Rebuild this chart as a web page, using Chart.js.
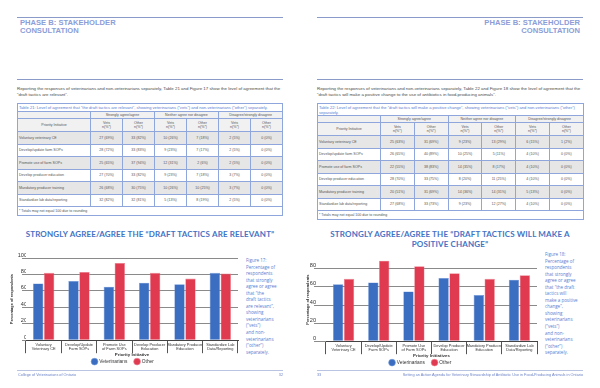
<!DOCTYPE html>
<html>
<head>
<meta charset="utf-8">
<script src="https://cdn.jsdelivr.net/npm/chart.js@4.4.1/dist/chart.umd.min.js"></script>
<style>
  html, body { margin: 0; padding: 0; background: #fff; }
  #page { position: relative; width: 600px; height: 388px; overflow: hidden; font-family: "Liberation Sans", Arial, sans-serif; }
  .rule { position: absolute; height: 0; border-top: 1px solid #8a9bc9; }
  .head { position: absolute; font-weight: bold; font-size: 7.6px; line-height: 8.4px; color: #8c9dd8; }
  .para { position: absolute; width: 268px; font-size: 4.4px; line-height: 6px; color: #4a4a4a; }
  .ctitle { position: absolute; width: 300px; font-family: Lato, "Open Sans", sans-serif; font-weight: bold; font-size: 8px; letter-spacing: 0.15px; line-height: 10px; color: #4472c4; text-align: center; }
  .side { position: absolute; width: 48px; font-family: "Open Sans", sans-serif; font-size: 4.5px; line-height: 6.55px; color: #5a7dd2; }
  .foot { position: absolute; font-size: 3.8px; color: #6f86c9; }
  table { position: absolute; border-collapse: collapse; table-layout: fixed; font-size: 3.6px; color: #555; }
  td { border: 1px solid #8ea6dc; padding: 0 1px; text-align: center; vertical-align: middle; line-height: 4.4px; overflow: hidden; white-space: nowrap; }
  td.cap { text-align: left; color: #5a7dd2; white-space: normal; font-size: 4.1px; line-height: 5px; }
  td.init { text-align: left; }
  td.note { text-align: left; }
  tr.hd td { background: #f1f1f1; }
  tr.sh td { background: #e6e6e6; }
  canvas { position: absolute; }
</style>
</head>
<body>
<div id="page">
  <!-- left page -->
  <div class="rule" style="left:17px; top:17px; width:266px;"></div>
  <div class="head" style="left:20px; top:19px;">PHASE B: STAKEHOLDER<br>CONSULTATION</div>
  <div class="rule" style="left:17px; top:79px; width:266px;"></div>
  <div class="para" style="left:17px; top:86px;">Reporting the responses of veterinarians and non-veterinarians separately, Table 21 and Figure 17 show the level of agreement that the “draft tactics are relevant”.</div>
  <table id="table21" style="left:17px; top:103px; width:266px;"></table>
  <div class="ctitle" style="left:0; top:229px;">STRONGLY AGREE/AGREE THE “DRAFT TACTICS ARE RELEVANT”</div>
  <canvas id="chart17" width="240" height="124" style="left:0; top:250px; width:240px; height:124px;"></canvas>
  <div class="side" style="left:246px; top:257px;">Figure 17:<br>Percentage of<br>respondents<br>that strongly<br>agree or agree<br>that “the<br>draft tactics<br>are relevant”,<br>showing<br>veterinarians<br>(“vets”)<br>and non-<br>veterinarians<br>(“other”)<br>separately.</div>
  <div class="rule" style="left:17px; top:370px; width:266px; border-color:#b9c4e2;"></div>
  <div class="foot" style="left:18px; top:373px;">College of Veterinarians of Ontario</div>
  <div class="foot" style="left:276px; top:373px; width:7px; text-align:right;">32</div>

  <!-- right page -->
  <div class="rule" style="left:317px; top:17px; width:266px;"></div>
  <div class="head" style="left:400px; top:19px; width:180px; text-align:right;">PHASE B: STAKEHOLDER<br>CONSULTATION</div>
  <div class="rule" style="left:317px; top:79px; width:266px;"></div>
  <div class="para" style="left:317px; top:86px;">Reporting the responses of veterinarians and non-veterinarians separately, Table 22 and Figure 18 show the level of agreement that the “draft tactics will make a positive change to the use of antibiotics in food-producing animals”.</div>
  <table id="table22" style="left:317px; top:103px; width:266px;"></table>
  <div class="ctitle" style="left:300px; top:229px;">STRONGLY AGREE/AGREE THE “DRAFT TACTICS WILL MAKE A<br>POSITIVE CHANGE”</div>
  <canvas id="chart18" width="240" height="124" style="left:300px; top:251px; width:240px; height:124px;"></canvas>
  <div class="side" style="left:545px; top:251px;">Figure 18:<br>Percentage of<br>respondents<br>that strongly<br>agree or agree<br>that “the draft<br>tactics will<br>make a positive<br>change”,<br>showing<br>veterinarians<br>(“vets”)<br>and non-<br>veterinarians<br>(“other”)<br>separately.</div>
  <div class="rule" style="left:317px; top:370px; width:266px; border-color:#b9c4e2;"></div>
  <div class="foot" style="left:317px; top:373px;">33</div>
  <div class="foot" style="left:380px; top:373px; width:203px; text-align:right;">Setting an Action Agenda for Veterinary Stewardship of Antibiotic Use in Food-Producing Animals in Ontario</div>
</div>

<script>
  // chart categories (two-line labels)
  var initiatives = [
    ['Voluntary', 'Veterinary CE'],
    ['Develop/Update', 'Farm SOPs'],
    ['Promote Use', 'of Farm SOPs'],
    ['Develop Producer', 'Education'],
    ['Mandatory Producer', 'Education'],
    ['Standardize Lab', 'Data/Reporting']
  ];

  // figure 17: % strongly agree/agree "draft tactics are relevant"
  var relevantVets = [69, 72, 65, 70, 68, 82];
  var relevantOther = [82, 83, 94, 82, 75, 81];

  // figure 18: % strongly agree/agree "draft tactics will make a positive change"
  var changeVets = [63, 65, 55, 70, 51, 68];
  var changeOther = [69, 89, 83, 75, 69, 73];

  var yTicks17 = [0, 20, 40, 60, 80, 100];
  var yTicks18 = [0, 20, 40, 60, 80];

  // table rows
  var tableInitiatives = [
    'Voluntary veterinary CE',
    'Develop/update farm SOPs',
    'Promote use of farm SOPs',
    'Develop producer education',
    'Mandatory producer training',
    'Standardize lab data/reporting'
  ];
  var table21Rows = [
    ['27 (69%)', '33 (82%)', '10 (26%)', '7 (18%)', '2 (5%)', '0 (0%)'],
    ['28 (72%)', '33 (83%)', '9 (23%)', '7 (17%)', '2 (5%)', '0 (0%)'],
    ['25 (65%)', '37 (94%)', '12 (31%)', '2 (6%)', '2 (5%)', '0 (0%)'],
    ['27 (70%)', '33 (82%)', '9 (23%)', '7 (18%)', '3 (7%)', '0 (0%)'],
    ['26 (68%)', '30 (75%)', '10 (26%)', '10 (25%)', '3 (7%)', '0 (0%)'],
    ['32 (82%)', '32 (81%)', '5 (13%)', '8 (19%)', '2 (5%)', '0 (0%)']
  ];
  var table22Rows = [
    ['25 (63%)', '31 (69%)', '9 (23%)', '13 (29%)', '6 (15%)', '1 (2%)'],
    ['26 (65%)', '40 (89%)', '10 (25%)', '5 (11%)', '4 (10%)', '0 (0%)'],
    ['22 (55%)', '38 (83%)', '14 (35%)', '8 (17%)', '4 (10%)', '0 (0%)'],
    ['28 (70%)', '33 (75%)', '8 (20%)', '11 (25%)', '4 (10%)', '0 (0%)'],
    ['20 (51%)', '31 (69%)', '14 (36%)', '14 (31%)', '5 (13%)', '0 (0%)'],
    ['27 (68%)', '33 (73%)', '9 (23%)', '12 (27%)', '4 (10%)', '0 (0%)']
  ];
  var groupHeaders = ['Strongly agree/agree', 'Neither agree nor disagree', 'Disagree/strongly disagree'];

  function buildTable(el, caption, rows, firstCol, sub, capH, rowH) {
    var html = '<colgroup><col style="width:' + firstCol + 'px">';
    for (var c = 0; c < 6; c++) html += '<col style="width:' + sub + 'px">';
    html += '</colgroup>';
    html += '<tr style="height:' + capH + 'px"><td class="cap" colspan="7">' + caption + '</td></tr>';
    html += '<tr class="hd" style="height:7px"><td></td>';
    groupHeaders.forEach(function (g) { html += '<td colspan="2">' + g + '</td>'; });
    html += '</tr><tr class="hd" style="height:13px"><td>Priority Initiative</td>';
    for (var k = 0; k < 3; k++) html += '<td>Vets<br>n(%*)</td><td>Other<br>n(%*)</td>';
    html += '</tr>';
    rows.forEach(function (r, i) {
      html += '<tr class="' + (i % 2 === 0 ? 'sh' : '') + '" style="height:' + rowH + 'px"><td class="init">' + tableInitiatives[i] + '</td>';
      r.forEach(function (v) { html += '<td>' + v + '</td>'; });
      html += '</tr>';
    });
    html += '<tr style="height:9px"><td class="note" colspan="7">* Totals may not equal 100 due to rounding</td></tr>';
    el.innerHTML = html;
  }

  buildTable(document.getElementById('table21'),
    'Table 21: Level of agreement that “the draft tactics are relevant”, showing veterinarians (“vets”) and non-veterinarians (“other”) separately.',
    table21Rows, 73, 32, 8, 12.5);
  buildTable(document.getElementById('table22'),
    'Table 22: Level of agreement that the “draft tactics will make a positive change”, showing veterinarians (“vets”) and non-veterinarians (“other”) separately.',
    table22Rows, 63, 33.8, 12, 12.5);

  Chart.defaults.font.family = '"Liberation Sans", Arial, sans-serif';
  Chart.defaults.color = '#333';

  // default legend items, with a little extra room after the first entry
  function legendItems(chart) {
    var items = Chart.defaults.plugins.legend.labels.generateLabels(chart);
    items[0].text += '    ';
    return items;
  }

  function makeChart(id, vets, other, yMax, yTicks, lay) {
    return new Chart(document.getElementById(id), {
      type: 'bar',
      data: {
        labels: initiatives,
        datasets: [
          { label: 'Veterinarians', data: vets, backgroundColor: '#3b6dc1', borderColor: '#6f97d8', borderWidth: 0.6 },
          { label: 'Other', data: other, backgroundColor: '#df3a50', borderColor: '#ee8592', borderWidth: 0.6 }
        ]
      },
      options: {
        responsive: false,
        animation: false,
        devicePixelRatio: 1,
        datasets: { bar: { categoryPercentage: 0.62, barPercentage: 0.95 } },
        layout: { padding: { top: lay.padTop, left: lay.padLeft, right: lay.padRight, bottom: 0 } },
        plugins: {
          legend: {
            position: 'bottom',
            labels: {
              usePointStyle: true, pointStyle: 'circle', boxWidth: 5, boxHeight: 5, padding: 2,
              font: { size: 4.8 }, color: '#333', generateLabels: legendItems
            }
          },
          tooltip: { enabled: false }
        },
        scales: {
          x: {
            grid: { display: true, drawOnChartArea: false, drawTicks: true, tickLength: 13, color: '#555', offset: true },
            border: { display: true, color: '#444', width: 1 },
            ticks: { maxRotation: 0, autoSkip: false, padding: -11, font: { size: 3.9 }, color: '#333' },
            title: { display: true, text: lay.xTitle, font: { size: 4.4, weight: 'bold' }, color: '#333', padding: { top: 0, bottom: 0 } },
            afterFit: function (scale) { scale.height = 17; }
          },
          y: {
            min: 0,
            max: yMax,
            afterBuildTicks: function (scale) {
              scale.ticks = yTicks.map(function (v) { return { value: v }; });
            },
            grid: { color: '#8a8a8a', lineWidth: 1, drawTicks: true, tickLength: lay.tickLen },
            border: { display: false },
            ticks: { padding: lay.tickPad, labelOffset: -3, font: { size: 5.6 }, color: '#333' },
            title: { display: true, text: 'Percentage of respondents', font: { size: 3.9, weight: 'bold' }, color: '#333', padding: { top: 2, bottom: 0 } },
            afterFit: function (scale) { scale.width = lay.yWidth; }
          }
        }
      }
    });
  }

  makeChart('chart17', relevantVets, relevantOther, 100, yTicks17,
    { padTop: 8, padLeft: 8, padRight: 2, yWidth: 18, tickLen: 4, tickPad: -5, xTitle: 'Priority Initiative' });
  makeChart('chart18', changeVets, changeOther, 92, yTicks18,
    { padTop: 7, padLeft: 4, padRight: 3, yWidth: 22, tickLen: 12, tickPad: -2, xTitle: 'Priority Initiatives' });
</script>
</body>
</html>
